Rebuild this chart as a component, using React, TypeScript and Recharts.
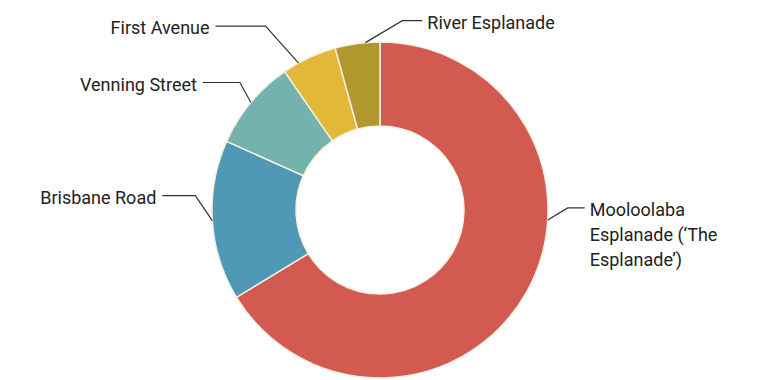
import React from 'react';
import { PieChart, Pie, Cell } from 'recharts';

const streets = [
  'Mooloolaba Esplanade (‘The Esplanade’)',
  'Brisbane Road',
  'Venning Street',
  'First Avenue',
  'River Esplanade',
];
const shares = [66.3, 15.4, 8.7, 5.3, 4.3];
const labelLines = [
  ['Mooloolaba', 'Esplanade (‘The', 'Esplanade’)'],
  ['Brisbane Road'],
  ['Venning Street'],
  ['First Avenue'],
  ['River Esplanade'],
];

const COLORS = ['#d35a51', '#4f98b6', '#73b2ad', '#e3b838', '#b0982f'];

// leader line layout per slice: optional anchor angle, elbow offset, horizontal run
const LEADERS: { anchor?: number; elbow: [number, number]; run: number }[] = [
  { anchor: -3.4, elbow: [20, -12], run: 17 },
  { elbow: [-17, -25], run: -33 },
  { elbow: [-11, -20], run: -37 },
  { anchor: 119, elbow: [-33, -37], run: -50 },
  { anchor: 95, elbow: [37, -22], run: 20 },
];

const data = streets.map((name, i) => ({ name, value: shares[i] }));

const RADIAN = Math.PI / 180;

const renderLabel = (props: any) => {
  const { cx, cy, outerRadius, midAngle, index } = props;
  const layout = LEADERS[index];
  const angle = layout.anchor ?? midAngle;
  const sx = cx + outerRadius * Math.cos(-angle * RADIAN);
  const sy = cy + outerRadius * Math.sin(-angle * RADIAN);
  const ex = sx + layout.elbow[0];
  const ey = sy + layout.elbow[1];
  const hx = ex + layout.run;
  const right = layout.run > 0;
  const tx = right ? hx + 5 : hx - 6;
  return (
    <g key={`lbl-${index}`}>
      <polyline
        points={`${sx},${sy} ${ex},${ey} ${hx},${ey}`}
        fill="none"
        stroke="#333"
        strokeWidth={1.2}
      />
      <text
        x={tx}
        y={ey + 8}
        textAnchor={right ? 'start' : 'end'}
        fill="#222"
        fontSize={18}
        fontFamily="Roboto, sans-serif"
      >
        {labelLines[index].map((line, j) => (
          <tspan key={j} x={tx} dy={j === 0 ? 0 : 25}>
            {line}
          </tspan>
        ))}
      </text>
    </g>
  );
};

export default function App() {
  return (
    <div style={{ position: 'absolute', left: 0, top: 0, width: 760, height: 380, background: '#fff' }}>
      <PieChart width={760} height={380} margin={{ top: 0, right: 0, bottom: 0, left: 0 }}>
        <Pie
          data={data}
          dataKey="value"
          nameKey="name"
          cx={380}
          cy={210}
          innerRadius={84}
          outerRadius={168}
          startAngle={90}
          endAngle={-270}
          stroke="#f3f0e2"
          strokeWidth={1.5}
          label={renderLabel}
          labelLine={false}
          isAnimationActive={false}
        >
          {data.map((d, i) => (
            <Cell key={d.name} fill={COLORS[i]} />
          ))}
        </Pie>
      </PieChart>
    </div>
  );
}
